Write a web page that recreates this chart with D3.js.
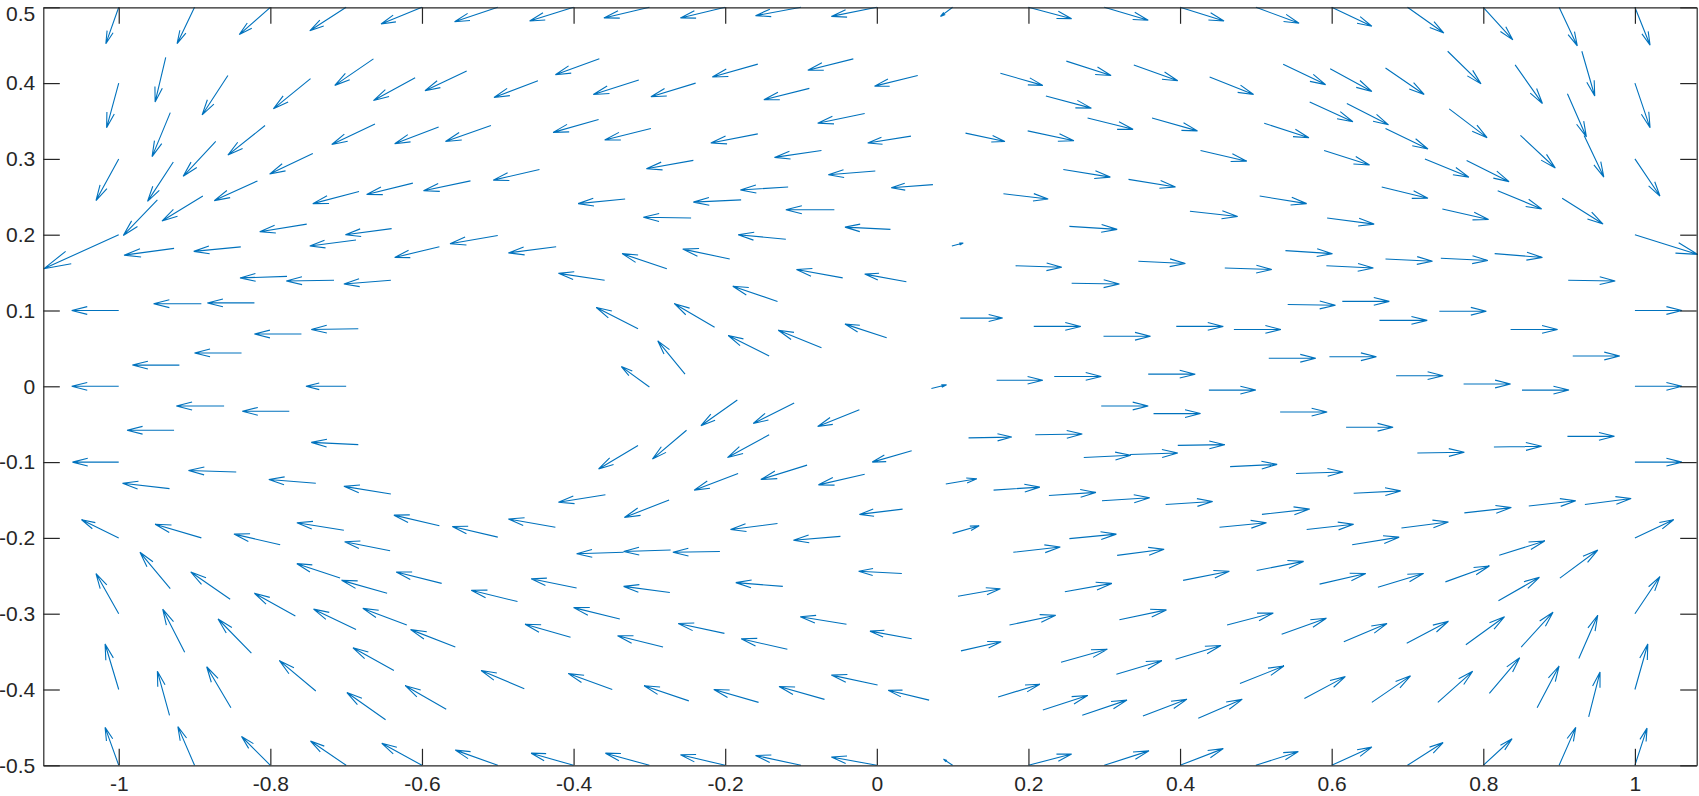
<!DOCTYPE html>
<html>
<head>
<meta charset="utf-8">
<script src="https://cdn.jsdelivr.net/npm/d3@7"></script>
<style>
  body { margin: 0; background: #fff; }
  svg { display: block; }
  text { font-family: "Liberation Sans", Arial, sans-serif; }
</style>
</head>
<body>
<div id="plot"></div>
<script>
// each arrow: [x, y, u, v]  (tail position and displayed vector)
const edgeTop = [
  [-1.0, 0.5, -0.017, -0.048], [-0.9, 0.5, -0.023, -0.048], [-0.8, 0.5, -0.041, -0.036],
  [-0.7, 0.5, -0.048, -0.031], [-0.6, 0.5, -0.054, -0.022], [-0.5, 0.5, -0.057, -0.019],
  [-0.4, 0.5, -0.058, -0.018], [-0.3, 0.5, -0.060, -0.014], [-0.2, 0.5, -0.059, -0.014],
  [-0.1, 0.5, -0.060, -0.011], [0.0, 0.5, -0.060, -0.012], [0.1, 0.5, -0.016, -0.012],
  [0.2, 0.5, 0.057, -0.015], [0.3, 0.5, 0.058, -0.017], [0.4, 0.5, 0.058, -0.018],
  [0.5, 0.5, 0.057, -0.021], [0.6, 0.5, 0.053, -0.025], [0.7, 0.5, 0.048, -0.034],
  [0.8, 0.5, 0.039, -0.043], [0.9, 0.5, 0.024, -0.051], [1.0, 0.5, 0.020, -0.050]
];
const edgeBottom = [
  [-1.0, -0.5, -0.018, 0.050], [-0.9, -0.5, -0.022, 0.051], [-0.8, -0.5, -0.038, 0.038],
  [-0.7, -0.5, -0.047, 0.032], [-0.6, -0.5, -0.053, 0.029], [-0.5, -0.5, -0.056, 0.020],
  [-0.4, -0.5, -0.056, 0.016], [-0.3, -0.5, -0.058, 0.016], [-0.2, -0.5, -0.059, 0.014],
  [-0.1, -0.5, -0.060, 0.013], [0.0, -0.5, -0.060, 0.011], [0.1, -0.5, -0.012, 0.008],
  [0.2, -0.5, 0.057, 0.015], [0.3, -0.5, 0.059, 0.019], [0.4, -0.5, 0.057, 0.022],
  [0.5, -0.5, 0.056, 0.018], [0.6, -0.5, 0.053, 0.024], [0.7, -0.5, 0.047, 0.030],
  [0.8, -0.5, 0.038, 0.035], [0.9, -0.5, 0.022, 0.050], [1.0, -0.5, 0.016, 0.049]
];
const edgeLeft = [
  [-1, 0.4, -0.016, -0.059], [-1, 0.3, -0.030, -0.055], [-1, 0.2, -0.099, -0.045],
  [-1, 0.1, -0.062, 0], [-1, 0, -0.062, 0], [-1, -0.1, -0.061, 0],
  [-1, -0.2, -0.049, 0.024], [-1, -0.3, -0.030, 0.053], [-1, -0.4, -0.018, 0.060]
];
const edgeRight = [
  [1, 0.4, 0.020, -0.059], [1, 0.3, 0.033, -0.049], [1, 0.2, 0.083, -0.026],
  [1, 0.1, 0.062, 0], [1, 0, 0.062, 0], [1, -0.1, 0.062, 0],
  [1, -0.2, 0.051, 0.024], [1, -0.3, 0.033, 0.049], [1, -0.4, 0.017, 0.060]
];
const upperLeft = [
  [-0.938, 0.434, -0.014, -0.059], [-0.856, 0.410, -0.034, -0.052], [-0.747, 0.406, -0.049, -0.040],
  [-0.664, 0.432, -0.051, -0.035], [-0.609, 0.407, -0.055, -0.030], [-0.541, 0.416, -0.055, -0.026],
  [-0.932, 0.361, -0.024, -0.058], [-0.928, 0.296, -0.034, -0.052], [-0.872, 0.323, -0.043, -0.046],
  [-0.807, 0.344, -0.049, -0.039], [-0.744, 0.307, -0.057, -0.027], [-0.662, 0.346, -0.057, -0.027],
  [-0.578, 0.342, -0.058, -0.022], [-0.509, 0.344, -0.060, -0.021], [-0.949, 0.246, -0.045, -0.047],
  [-0.889, 0.251, -0.054, -0.033], [-0.817, 0.271, -0.057, -0.026], [-0.683, 0.257, -0.061, -0.016],
  [-0.612, 0.268, -0.061, -0.015], [-0.536, 0.271, -0.062, -0.013], [-0.927, 0.182, -0.066, -0.009],
  [-0.839, 0.184, -0.062, -0.006], [-0.752, 0.214, -0.062, -0.010], [-0.640, 0.208, -0.061, -0.008],
  [-0.687, 0.193, -0.061, -0.008], [-0.577, 0.184, -0.059, -0.014], [-0.500, 0.199, -0.063, -0.011],
  [-0.366, 0.432, -0.058, -0.021], [-0.447, 0.403, -0.058, -0.022], [-0.314, 0.404, -0.060, -0.019],
  [-0.239, 0.400, -0.059, -0.018], [-0.157, 0.425, -0.060, -0.017], [-0.031, 0.432, -0.060, -0.015],
  [-0.089, 0.393, -0.060, -0.015], [0.054, 0.410, -0.057, -0.014], [-0.367, 0.352, -0.060, -0.017],
  [-0.298, 0.340, -0.061, -0.015], [-0.157, 0.333, -0.062, -0.012], [-0.016, 0.360, -0.062, -0.013],
  [-0.073, 0.311, -0.062, -0.009], [0.045, 0.330, -0.057, -0.009], [-0.242, 0.298, -0.062, -0.011],
  [-0.002, 0.284, -0.062, -0.005], [-0.445, 0.286, -0.061, -0.014], [-0.117, 0.263, -0.063, -0.004],
  [-0.179, 0.246, -0.063, -0.003], [-0.332, 0.247, -0.062, -0.006], [-0.245, 0.222, -0.063, 0.001],
  [-0.056, 0.233, -0.064, 0], [0.018, 0.207, -0.060, 0.003], [-0.120, 0.194, -0.063, 0.006],
  [-0.423, 0.184, -0.063, -0.008], [-0.194, 0.168, -0.062, 0.013], [-0.277, 0.155, -0.059, 0.020]
];
const upperRight = [
  [0.163, 0.413, 0.056, -0.016], [0.250, 0.429, 0.059, -0.019], [0.339, 0.424, 0.058, -0.021],
  [0.439, 0.408, 0.058, -0.023], [0.536, 0.425, 0.056, -0.027], [0.223, 0.383, 0.060, -0.016],
  [0.278, 0.354, 0.060, -0.015], [0.363, 0.354, 0.060, -0.017], [0.511, 0.347, 0.059, -0.019],
  [0.117, 0.334, 0.052, -0.011], [0.199, 0.337, 0.061, -0.013], [0.427, 0.311, 0.061, -0.014],
  [0.074, 0.266, -0.055, -0.004], [0.246, 0.286, 0.062, -0.010], [0.332, 0.273, 0.062, -0.010],
  [0.505, 0.251, 0.062, -0.010], [0.167, 0.254, 0.059, -0.007], [0.413, 0.231, 0.063, -0.007],
  [0.254, 0.211, 0.063, -0.004], [0.099, 0.185, 0.015, 0.004], [0.539, 0.179, 0.062, -0.004],
  [0.183, 0.159, 0.061, -0.002], [0.345, 0.165, 0.062, -0.003], [0.459, 0.156, 0.062, -0.002],
  [0.598, 0.419, 0.055, -0.030], [0.671, 0.420, 0.051, -0.035], [0.753, 0.442, 0.044, -0.043],
  [0.842, 0.424, 0.036, -0.051], [0.930, 0.442, 0.017, -0.059], [0.571, 0.375, 0.057, -0.026],
  [0.620, 0.373, 0.055, -0.028], [0.671, 0.340, 0.056, -0.027], [0.755, 0.366, 0.050, -0.038],
  [0.911, 0.386, 0.025, -0.057], [0.933, 0.331, 0.026, -0.055], [0.849, 0.331, 0.046, -0.043],
  [0.590, 0.311, 0.060, -0.019], [0.723, 0.300, 0.058, -0.024], [0.778, 0.298, 0.056, -0.028],
  [0.666, 0.263, 0.061, -0.015], [0.819, 0.258, 0.058, -0.024], [0.904, 0.248, 0.054, -0.034],
  [0.594, 0.222, 0.062, -0.008], [0.746, 0.234, 0.061, -0.014], [0.671, 0.168, 0.062, -0.003],
  [0.744, 0.169, 0.062, -0.003], [0.815, 0.175, 0.063, -0.005], [0.593, 0.159, 0.062, -0.003]
];
const middleLeft = [
  [-0.778, 0.145, -0.062, -0.002], [-0.716, 0.140, -0.063, -0.001], [-0.641, 0.140, -0.062, -0.005],
  [-0.891, 0.109, -0.063, 0], [-0.821, 0.110, -0.062, 0], [-0.759, 0.069, -0.062, 0],
  [-0.684, 0.076, -0.062, -0.001], [-0.838, 0.044, -0.062, 0], [-0.920, 0.028, -0.062, 0],
  [-0.700, 0.000, -0.053, 0], [-0.861, -0.026, -0.063, 0], [-0.775, -0.033, -0.062, 0],
  [-0.927, -0.058, -0.062, 0], [-0.684, -0.077, -0.062, 0.003], [-0.845, -0.113, -0.063, 0.002],
  [-0.933, -0.135, -0.062, 0.007], [-0.740, -0.128, -0.062, 0.005], [-0.641, -0.142, -0.062, 0.010],
  [-0.577, -0.184, -0.060, 0.014],
  [-0.359, 0.140, -0.061, 0.009], [-0.045, 0.143, -0.061, 0.011], [0.039, 0.138, -0.055, 0.010],
  [-0.131, 0.112, -0.059, 0.020], [-0.315, 0.076, -0.055, 0.028], [-0.214, 0.078, -0.053, 0.031],
  [-0.142, 0.040, -0.054, 0.027], [-0.073, 0.051, -0.057, 0.023], [0.013, 0.064, -0.055, 0.018],
  [-0.253, 0.016, -0.036, 0.044], [-0.300, -0.001, -0.037, 0.027], [-0.184, -0.018, -0.048, -0.034],
  [-0.109, -0.022, -0.054, -0.027], [-0.023, -0.031, -0.055, -0.022], [-0.251, -0.058, -0.045, -0.038],
  [-0.315, -0.078, -0.052, -0.031], [-0.142, -0.064, -0.055, -0.030], [0.046, -0.085, -0.052, -0.015],
  [-0.183, -0.115, -0.058, -0.022], [-0.092, -0.104, -0.061, -0.019], [-0.016, -0.116, -0.061, -0.014],
  [-0.358, -0.143, -0.062, -0.010], [-0.274, -0.150, -0.059, -0.023], [-0.424, -0.186, -0.062, 0.011],
  [-0.131, -0.181, -0.062, -0.008], [0.034, -0.162, -0.057, -0.007]
];
const middleRight = [
  [0.257, 0.136, 0.063, -0.001], [0.542, 0.108, 0.063, -0.001], [0.110, 0.090, 0.056, 0],
  [0.207, 0.079, 0.062, 0], [0.299, 0.066, 0.062, 0], [0.395, 0.079, 0.062, 0],
  [0.471, 0.075, 0.062, 0], [0.517, 0.037, 0.062, 0], [0.072, -0.003, 0.020, 0.005],
  [0.158, 0.008, 0.061, 0], [0.234, 0.013, 0.062, 0], [0.358, 0.016, 0.062, 0],
  [0.438, -0.005, 0.062, 0], [0.296, -0.026, 0.062, 0], [0.365, -0.036, 0.062, 0],
  [0.532, -0.034, 0.062, 0], [0.121, -0.068, 0.057, 0.001], [0.209, -0.064, 0.062, 0.001],
  [0.273, -0.094, 0.062, 0.003], [0.334, -0.090, 0.063, 0.002], [0.397, -0.078, 0.062, 0.001],
  [0.466, -0.106, 0.062, 0.003], [0.553, -0.115, 0.062, 0.002], [0.091, -0.129, 0.041, 0.007],
  [0.154, -0.137, 0.061, 0.004], [0.227, -0.144, 0.062, 0.004], [0.297, -0.151, 0.063, 0.004],
  [0.381, -0.156, 0.062, 0.004], [0.508, -0.169, 0.063, 0.007], [0.452, -0.186, 0.062, 0.006],
  [0.912, 0.140, 0.062, -0.001], [0.614, 0.112, 0.062, 0], [0.663, 0.087, 0.063, 0],
  [0.742, 0.099, 0.062, 0], [0.836, 0.075, 0.062, 0], [0.597, 0.039, 0.062, 0],
  [0.685, 0.014, 0.062, 0], [0.774, 0.003, 0.062, 0], [0.851, -0.005, 0.062, 0],
  [0.918, 0.040, 0.062, 0], [0.619, -0.054, 0.062, 0], [0.713, -0.088, 0.062, 0.001],
  [0.814, -0.080, 0.063, 0.001], [0.911, -0.066, 0.062, 0], [0.629, -0.141, 0.062, 0.003],
  [0.775, -0.167, 0.062, 0.007], [0.860, -0.158, 0.062, 0.007], [0.934, -0.156, 0.061, 0.008],
  [0.567, -0.189, 0.062, 0.007], [0.692, -0.187, 0.062, 0.008]
];
const lowerLeft = [
  [-0.891, -0.200, -0.061, 0.018], [-0.787, -0.209, -0.061, 0.014], [-0.703, -0.190, -0.062, 0.010],
  [-0.642, -0.217, -0.060, 0.012], [-0.500, -0.199, -0.060, 0.014], [-0.932, -0.267, -0.040, 0.048],
  [-0.853, -0.281, -0.052, 0.036], [-0.767, -0.303, -0.054, 0.030], [-0.708, -0.253, -0.057, 0.019],
  [-0.646, -0.273, -0.060, 0.017], [-0.574, -0.260, -0.060, 0.015], [-0.687, -0.321, -0.056, 0.027],
  [-0.620, -0.315, -0.058, 0.022], [-0.556, -0.344, -0.059, 0.023], [-0.913, -0.351, -0.029, 0.057],
  [-0.825, -0.352, -0.044, 0.045], [-0.933, -0.434, -0.016, 0.058], [-0.852, -0.424, -0.032, 0.054],
  [-0.740, -0.402, -0.048, 0.040], [-0.637, -0.375, -0.054, 0.030], [-0.648, -0.440, -0.051, 0.036],
  [-0.568, -0.426, -0.054, 0.031],
  [-0.048, -0.198, -0.062, -0.005], [-0.272, -0.216, -0.062, -0.002], [-0.334, -0.219, -0.062, -0.002],
  [-0.207, -0.218, -0.062, -0.001], [0.033, -0.247, -0.057, 0.003], [-0.396, -0.266, -0.060, 0.012],
  [-0.474, -0.284, -0.061, 0.015], [-0.273, -0.272, -0.061, 0.008], [-0.124, -0.264, -0.062, 0.005],
  [-0.339, -0.307, -0.061, 0.015], [-0.404, -0.331, -0.060, 0.017], [-0.201, -0.326, -0.061, 0.013],
  [-0.282, -0.344, -0.060, 0.015], [-0.040, -0.314, -0.061, 0.010], [-0.118, -0.347, -0.061, 0.014],
  [0.046, -0.333, -0.055, 0.010], [-0.465, -0.399, -0.057, 0.024], [-0.349, -0.400, -0.058, 0.021],
  [-0.248, -0.415, -0.059, 0.020], [-0.156, -0.417, -0.059, 0.017], [-0.069, -0.413, -0.060, 0.017],
  [0.001, -0.394, -0.061, 0.013]
];
const lowerRight = [
  [0.100, -0.194, 0.035, 0.010], [0.254, -0.201, 0.062, 0.006], [0.180, -0.219, 0.062, 0.007],
  [0.317, -0.223, 0.062, 0.008], [0.404, -0.256, 0.061, 0.012], [0.501, -0.243, 0.062, 0.012],
  [0.107, -0.277, 0.056, 0.010], [0.248, -0.271, 0.062, 0.011], [0.175, -0.315, 0.061, 0.013],
  [0.320, -0.308, 0.062, 0.013], [0.462, -0.315, 0.061, 0.016], [0.111, -0.349, 0.053, 0.012],
  [0.243, -0.364, 0.061, 0.017], [0.316, -0.380, 0.060, 0.018], [0.394, -0.360, 0.060, 0.018],
  [0.534, -0.327, 0.059, 0.021], [0.069, -0.414, -0.054, 0.013], [0.160, -0.410, 0.055, 0.017],
  [0.219, -0.427, 0.059, 0.019], [0.271, -0.434, 0.059, 0.020], [0.351, -0.435, 0.058, 0.022],
  [0.424, -0.438, 0.058, 0.025], [0.479, -0.392, 0.058, 0.023],
  [0.627, -0.209, 0.062, 0.010], [0.821, -0.223, 0.060, 0.019], [0.584, -0.261, 0.061, 0.014],
  [0.661, -0.265, 0.060, 0.018], [0.750, -0.258, 0.058, 0.021], [0.820, -0.283, 0.054, 0.031],
  [0.901, -0.253, 0.050, 0.037], [0.616, -0.337, 0.057, 0.024], [0.699, -0.339, 0.055, 0.029],
  [0.777, -0.341, 0.051, 0.037], [0.850, -0.344, 0.042, 0.046], [0.926, -0.359, 0.025, 0.057],
  [0.564, -0.412, 0.054, 0.029], [0.653, -0.417, 0.051, 0.035], [0.740, -0.417, 0.046, 0.041],
  [0.808, -0.405, 0.040, 0.047], [0.871, -0.424, 0.029, 0.055], [0.939, -0.436, 0.015, 0.059]
];

const xTicks = [-1, -0.8, -0.6, -0.4, -0.2, 0, 0.2, 0.4, 0.6, 0.8, 1];
const xTickLabels = ["-1", "-0.8", "-0.6", "-0.4", "-0.2", "0", "0.2", "0.4", "0.6", "0.8", "1"];
const yTicks = [-0.5, -0.4, -0.3, -0.2, -0.1, 0, 0.1, 0.2, 0.3, 0.4, 0.5];
const yTickLabels = ["-0.5", "-0.4", "-0.3", "-0.2", "-0.1", "0", "0.1", "0.2", "0.3", "0.4", "0.5"];

const svgWidth = 1699, svgHeight = 796;
const margin = { top: 7.3, right: 2.3, bottom: 30.7, left: 43.3 };
const width = svgWidth - margin.left - margin.right;
const height = svgHeight - margin.top - margin.bottom;
const axisColor = "#262626";
const arrowColor = "#0072bd";
const tickLen = 16.5;

const svg = d3.select("#plot")
    .append("svg")
    .attr("width", svgWidth)
    .attr("height", svgHeight)
    .append("g")
    .attr("transform", "translate(" + margin.left + "," + margin.top + ")");

const x = d3.scaleLinear().domain([-1.0995, 1.0815]).range([0, width]);
const y = d3.scaleLinear().domain([-0.5, 0.5]).range([height, 0]);

// arrows, MATLAB quiver style head
const arrows = [].concat(edgeTop, edgeBottom, edgeLeft, edgeRight,
    upperLeft, upperRight, middleLeft, middleRight, lowerLeft, lowerRight);
const alpha = 0.33, beta = 0.25;

function arrowPath(d) {
    const x0 = x(d[0]), y0 = y(d[1]);
    const x1 = x(d[0] + d[2]), y1 = y(d[1] + d[3]);
    const du = x1 - x0, dv = y1 - y0;
    const h1x = x1 - alpha * (du + beta * dv), h1y = y1 - alpha * (dv - beta * du);
    const h2x = x1 - alpha * (du - beta * dv), h2y = y1 - alpha * (dv + beta * du);
    return "M" + x0 + "," + y0 + "L" + x1 + "," + y1 +
        "M" + h1x + "," + h1y + "L" + x1 + "," + y1 + "L" + h2x + "," + h2y;
}

svg.append("g")
    .selectAll("path")
    .data(arrows)
    .enter()
    .append("path")
    .attr("d", arrowPath)
    .attr("fill", "none")
    .attr("stroke", arrowColor)
    .attr("stroke-width", 1.1);

// axes with inward ticks on all four sides
function styleAxis(g) {
    g.selectAll("path.domain").attr("stroke", axisColor).attr("stroke-width", 1.2);
    g.selectAll(".tick line").attr("stroke", axisColor).attr("stroke-width", 1.2);
    g.selectAll(".tick text").attr("fill", axisColor).style("font-size", "21px")
        .style("font-family", "'Liberation Sans', Arial, sans-serif");
}

svg.append("g")
    .attr("transform", "translate(0," + height + ")")
    .call(d3.axisBottom(x).tickValues(xTicks)
        .tickFormat((d, i) => xTickLabels[i])
        .tickSizeInner(-tickLen).tickSizeOuter(0).tickPadding(11))
    .call(styleAxis);

svg.append("g")
    .call(d3.axisTop(x).tickValues(xTicks).tickFormat("")
        .tickSizeInner(-tickLen).tickSizeOuter(0))
    .call(styleAxis);

const yAxisG = svg.append("g")
    .call(d3.axisLeft(y).tickValues(yTicks)
        .tickFormat((d, i) => yTickLabels[i])
        .tickSizeInner(-tickLen).tickSizeOuter(0).tickPadding(8))
    .call(styleAxis);

// keep the top label inside the picture
yAxisG.selectAll(".tick text")
    .filter(d => d === 0.5)
    .attr("dy", "0.62em");

svg.append("g")
    .attr("transform", "translate(" + width + ",0)")
    .call(d3.axisRight(y).tickValues(yTicks).tickFormat("")
        .tickSizeInner(-tickLen).tickSizeOuter(0))
    .call(styleAxis);
</script>
</body>
</html>
